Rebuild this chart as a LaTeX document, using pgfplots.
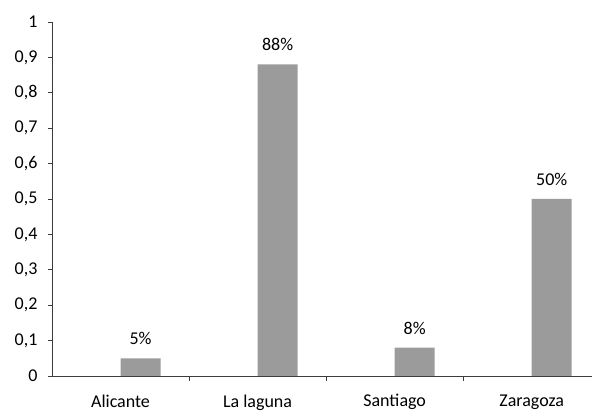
\documentclass[border=0pt]{standalone}
\usepackage{pgfplots}
\pgfplotsset{compat=1.18}
\usepackage{pgfplotstable}
\usepackage{fontspec}
\setmainfont{Carlito}
\definecolor{barfill}{RGB}{155,155,155}
\definecolor{axisc}{RGB}{60,60,60}
\pgfplotstableread{
x y lab
0 0.05 5\%
1 0.88 88\%
2 0.08 8\%
3 0.50 50\%
}\datatable
\begin{document}
\begin{tikzpicture}
\begin{axis}[
  name=ax,
  scale only axis,
  width=540bp, height=354bp,
  xmin=-0.5, xmax=3.44,
  ymin=0, ymax=1,
  axis lines=left,
  axis line style={axisc, line width=0.8pt, -},
  ytick={0,0.1,...,1.0},
  yticklabel style={/pgf/number format/fixed,/pgf/number format/precision=1,/pgf/number format/use comma, font=\fontsize{18bp}{20bp}\selectfont, xshift=-7bp},
  /pgf/number format/assume math mode=true,
  xtick={0,1,2,3},
  xticklabels={Alicante,La laguna,Santiago,Zaragoza},
  xticklabel style={font=\fontsize{18bp}{20bp}\selectfont, yshift=-11bp},
  minor xtick={0.5,1.5,2.5},
  major tick length=4bp,
  minor tick length=5bp,
  every major x tick/.append style={draw=none},
  every tick/.append style={axisc, line width=0.8pt},
  tick align=outside,
  ybar,
  bar width=40bp,
  bar shift=20bp,
  nodes near coords,
  point meta=explicit symbolic,
  every node near coord/.append style={font=\fontsize{18bp}{20bp}\selectfont, black, yshift=10bp},
  clip=false,
]
\addplot[fill=barfill, draw=none] table[x=x, y=y, meta=lab] {\datatable};
\end{axis}
\path ([xshift=-52bp,yshift=-34bp]ax.south west) rectangle ([xshift=1bp,yshift=22bp]ax.north east);
\end{tikzpicture}
\end{document}
